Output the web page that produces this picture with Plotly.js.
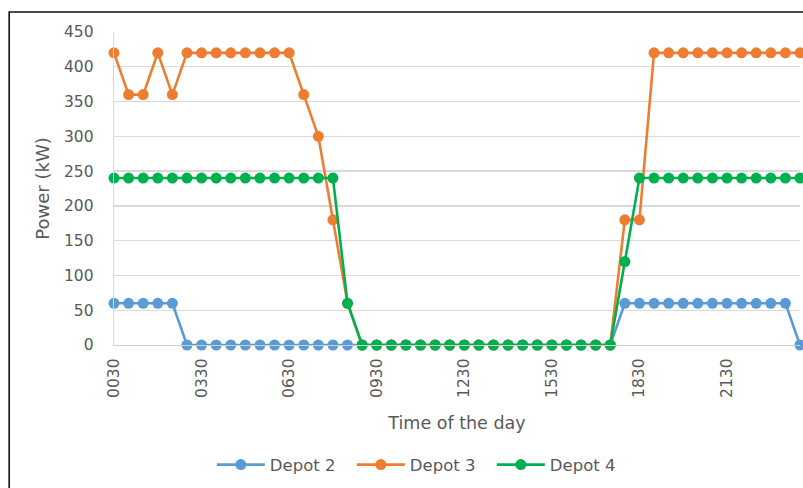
<!DOCTYPE html>
<html>
<head>
<meta charset="utf-8">
<script src="https://cdn.plot.ly/plotly-3.0.1.min.js"></script>
<style>
  html, body { margin: 0; padding: 0; background: #ffffff; }
  #chart { width: 803px; height: 488px; }
</style>
</head>
<body>
<div id="chart"></div>
<script>
// Half-hourly time slots of the day
const timeSlots = [
  '0030','0100','0130','0200','0230','0300','0330','0400','0430','0500','0530','0600',
  '0630','0700','0730','0800','0830','0900','0930','1000','1030','1100','1130','1200',
  '1230','1300','1330','1400','1430','1500','1530','1600','1630','1700','1730','1800',
  '1830','1900','1930','2000','2030','2100','2130','2200','2230','2300','2330','2400'
];

// Charging power per depot (kW)
const depot2 = [
  60, 60, 60, 60, 60, 0, 0, 0, 0, 0, 0, 0,
  0, 0, 0, 0, 0, 0, 0, 0, 0, 0, 0, 0,
  0, 0, 0, 0, 0, 0, 0, 0, 0, 0, 0, 60,
  60, 60, 60, 60, 60, 60, 60, 60, 60, 60, 60, 0
];
const depot3 = [
  420, 360, 360, 420, 360, 420, 420, 420, 420, 420, 420, 420,
  420, 360, 300, 180, 60, 0, 0, 0, 0, 0, 0, 0,
  0, 0, 0, 0, 0, 0, 0, 0, 0, 0, 0, 180,
  180, 420, 420, 420, 420, 420, 420, 420, 420, 420, 420, 420
];
const depot4 = [
  240, 240, 240, 240, 240, 240, 240, 240, 240, 240, 240, 240,
  240, 240, 240, 240, 60, 0, 0, 0, 0, 0, 0, 0,
  0, 0, 0, 0, 0, 0, 0, 0, 0, 0, 0, 120,
  240, 240, 240, 240, 240, 240, 240, 240, 240, 240, 240, 240
];

const seriesNames = ['Depot 2', 'Depot 3', 'Depot 4'];
const seriesColors = ['#5b9bd5', '#ed7d31', '#00b050'];

// Labelled time slots on the category axis
const tickLabels = ['0030', '0330', '0630', '0930', '1230', '1530', '1830', '2130'];

const FONT = 'DejaVu Sans, Open Sans, sans-serif';
const TEXT = '#595959';

const traces = [depot2, depot3, depot4].map((vals, i) => ({
  type: 'scatter',
  mode: 'lines+markers',
  name: seriesNames[i],
  x: timeSlots,
  y: vals,
  line: { color: seriesColors[i], width: 2.6 },
  marker: { color: seriesColors[i], size: 11 },
  cliponaxis: false
}));

const layout = {
  width: 803,
  height: 488,
  paper_bgcolor: '#ffffff',
  plot_bgcolor: '#ffffff',
  margin: { l: 114, r: 3, t: 32, b: 143 },
  font: { family: FONT, color: TEXT },
  showlegend: true,
  legend: {
    orientation: 'h',
    x: 0.1426,
    xanchor: 'left',
    y: -0.383,
    yanchor: 'middle',
    font: { family: FONT, size: 16.5, color: TEXT },
    itemwidth: 48,
    entrywidth: 77,
    entrywidthmode: 'pixels',
    bgcolor: 'rgba(0,0,0,0)'
  },
  xaxis: {
    type: 'category',
    categoryarray: timeSlots,
    range: [0, timeSlots.length - 1],
    tickmode: 'array',
    tickvals: tickLabels,
    ticktext: tickLabels,
    tickangle: -90,
    tickfont: { family: FONT, size: 15.5, color: TEXT },
    ticks: '',
    ticklabelstandoff: 6,
    showgrid: false,
    showline: true,
    linecolor: '#d0d0d0',
    linewidth: 1.3,
    zeroline: false,
    fixedrange: true,
    title: { text: 'Time of the day', font: { family: FONT, size: 17.5, color: TEXT }, standoff: 19 }
  },
  yaxis: {
    range: [0, 450],
    tick0: 0,
    dtick: 50,
    tickfont: { family: FONT, size: 15.5, color: TEXT },
    ticks: '',
    ticklabelstandoff: 16,
    showgrid: true,
    gridcolor: '#d9d9d9',
    gridwidth: 1.3,
    showline: true,
    linecolor: '#d9d9d9',
    linewidth: 1.3,
    zeroline: false,
    fixedrange: true,
    title: { text: 'Power (kW)', font: { family: FONT, size: 18, color: TEXT }, standoff: 9 }
  },
  shapes: [
    // chart frame along the left and top edges
    {
      type: 'rect', xref: 'paper', yref: 'paper',
      x0: -0.1528, x1: 1.3, y0: -0.8, y1: 1.0639,
      line: { color: '#111111', width: 1.6 },
      fillcolor: 'rgba(0,0,0,0)',
      layer: 'below'
    }
  ]
};

Plotly.newPlot('chart', traces, layout, { displayModeBar: false, staticPlot: true });
</script>
</body>
</html>
